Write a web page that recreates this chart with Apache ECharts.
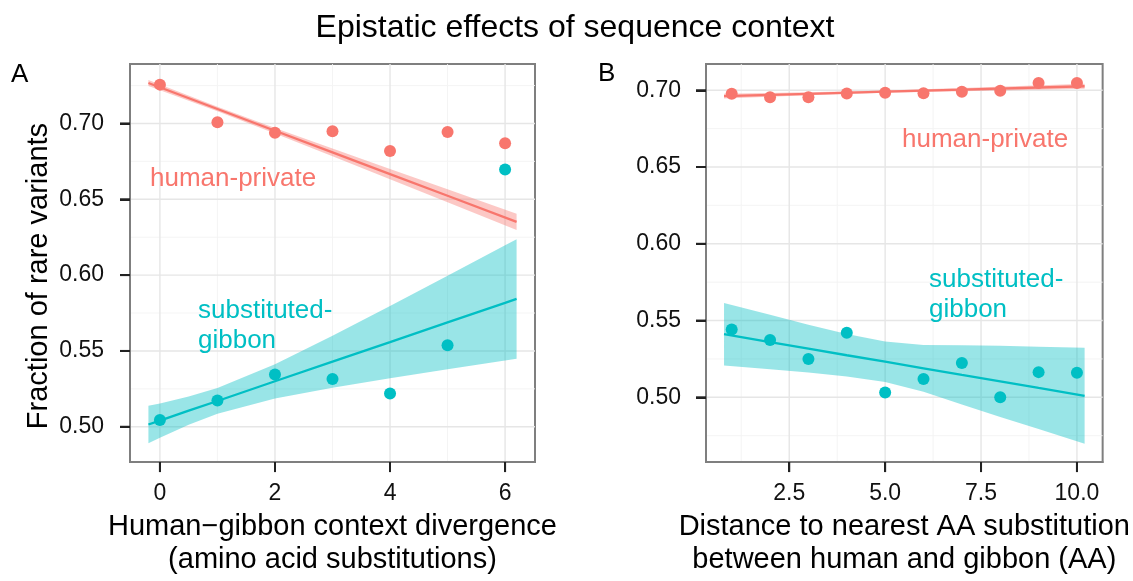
<!DOCTYPE html>
<html>
<head>
<meta charset="utf-8">
<script src="https://cdn.jsdelivr.net/npm/echarts@6/dist/echarts.min.js"></script>
<style>html,body{margin:0;padding:0;background:#fff;}#c{width:1133px;height:581px;}</style>
</head>
<body>
<div id="c"></div>
<script>
// ---------- Panel A data ----------
const xA = [0, 1, 2, 3, 4, 5, 6];
const privA = [0.7256, 0.7008, 0.6939, 0.6948, 0.6818, 0.6944, 0.6870];
const subA = [0.5045, 0.5173, 0.5345, 0.5315, 0.5220, 0.5538, 0.6696];
// fitted lines and confidence bands
const privA_fitX = [-0.2, 1, 2, 3, 4, 5, 6.2];
const privA_fit = [0.7267, 0.7095, 0.6952, 0.6809, 0.6666, 0.6523, 0.6351];
const privA_lo = [0.7247, 0.7080, 0.6934, 0.6784, 0.6632, 0.6480, 0.6298];
const privA_hi = [0.7287, 0.7110, 0.6970, 0.6834, 0.6700, 0.6566, 0.6404];
const subA_fitX = [-0.2, 0, 0.5, 1, 2, 3, 4, 5, 6, 6.2];
const subA_fit = [0.5015, 0.5041, 0.5106, 0.5170, 0.5300, 0.5429, 0.5558, 0.5688, 0.5817, 0.5843];
const subA_lo = [0.4892, 0.4928, 0.5013, 0.5085, 0.5187, 0.5258, 0.5320, 0.5380, 0.5437, 0.5449];
const subA_hi = [0.5138, 0.5154, 0.5199, 0.5255, 0.5413, 0.5600, 0.5796, 0.5996, 0.6197, 0.6237];

// ---------- Panel B data ----------
const xB = [1, 2, 3, 4, 5, 6, 7, 8, 9, 10];
const privB = [0.6977, 0.6955, 0.6955, 0.6979, 0.6983, 0.6981, 0.6990, 0.6996, 0.7047, 0.7047];
const subB = [0.5441, 0.5373, 0.5250, 0.5420, 0.5032, 0.5119, 0.5224, 0.5000, 0.5164, 0.5160];
const privB_fitX = [0.8, 3, 5, 7, 10.2];
const privB_fit = [0.6962, 0.6977, 0.6991, 0.7004, 0.7026];
const privB_lo = [0.6946, 0.6967, 0.6983, 0.6994, 0.7009];
const privB_hi = [0.6978, 0.6987, 0.6999, 0.7014, 0.7043];
const subB_fitX = [0.8, 2, 3, 4, 5, 6, 7, 8, 9, 10.2];
const subB_fit = [0.5411, 0.5360, 0.5317, 0.5274, 0.5232, 0.5189, 0.5146, 0.5104, 0.5061, 0.5010];
const subB_lo = [0.5208, 0.5182, 0.5161, 0.5136, 0.5100, 0.5037, 0.4953, 0.4872, 0.4793, 0.4698];
const subB_hi = [0.5614, 0.5538, 0.5473, 0.5412, 0.5364, 0.5341, 0.5339, 0.5336, 0.5329, 0.5322];

// ---------- ticks ----------
const xA_ticks = [0, 2, 4, 6];
const xA_minor = [1, 3, 5];
const yA_ticks = [0.50, 0.55, 0.60, 0.65, 0.70];
const yA_minor = [0.525, 0.575, 0.625, 0.675, 0.725];
const xB_ticks = [2.5, 5.0, 7.5, 10.0];
const xB_minor = [1.25, 3.75, 6.25, 8.75];
const yB_ticks = [0.50, 0.55, 0.60, 0.65, 0.70];
const yB_minor = [0.475, 0.525, 0.575, 0.625, 0.675];

const RED = '#F8766D', CYAN = '#00BFC4';
const FONT = '"Liberation Sans", Arial, sans-serif';

const extA = {xmin: -0.52, xmax: 6.52, ymin: 0.4767, ymax: 0.7392};
const extB = {xmin: 0.33, xmax: 10.67, ymin: 0.4578, ymax: 0.7171};

function gridData(xMaj, xMin, yMaj, yMin) {
  const d = [];
  xMin.forEach(v => d.push([v, 0, 0]));
  yMin.forEach(v => d.push([v, 1, 0]));
  xMaj.forEach(v => d.push([v, 0, 1]));
  yMaj.forEach(v => d.push([v, 1, 1]));
  return d;
}
function gridRender(ext) {
  return function (params, api) {
    const v = api.value(0), dir = api.value(1), maj = api.value(2);
    let p1, p2;
    if (dir === 0) { p1 = api.coord([v, ext.ymin]); p2 = api.coord([v, ext.ymax]); }
    else { p1 = api.coord([ext.xmin, v]); p2 = api.coord([ext.xmax, v]); }
    return {
      type: 'line', silent: true,
      shape: {x1: p1[0], y1: p1[1], x2: p2[0], y2: p2[1]},
      style: {stroke: maj ? '#e6e6e6' : '#f3f3f3', lineWidth: maj ? 1.4 : 0.9}
    };
  };
}
// outward tick marks drawn from the tick arrays through the axis scale
function tickRender(ext) {
  return function (params, api) {
    const v = api.value(0), dir = api.value(2);
    let p, pts;
    if (dir === 0) { p = api.coord([v, ext.ymin]); pts = [[p[0], p[1]], [p[0], p[1] + 10]]; }
    else { p = api.coord([ext.xmin, v]); pts = [[p[0], p[1]], [p[0] - 10, p[1]]]; }
    return {
      type: 'polyline', silent: true, z2: 100,
      shape: {points: pts},
      style: {stroke: '#222', lineWidth: 2, fill: null}
    };
  };
}
function tickData(xMaj, yMaj, ext) {
  const d = [];
  xMaj.forEach(v => d.push([v, ext.ymin, 0]));
  yMaj.forEach(v => d.push([ext.xmin, v, 1]));
  return d.map(r => r[2] === 0 ? [r[0], r[1], 0] : [r[1], r[0], 1]);
}
function bandRender(xs, lo, hi, color) {
  return function (params, api) {
    if (params.dataIndex !== 0) return;
    const pts = [];
    for (let i = 0; i < xs.length; i++) pts.push(api.coord([xs[i], hi[i]]));
    for (let i = xs.length - 1; i >= 0; i--) pts.push(api.coord([xs[i], lo[i]]));
    return {type: 'polygon', silent: true, shape: {points: pts}, style: {fill: color, opacity: 0.4}};
  };
}
function bandSeries(idx, xs, lo, hi, color) {
  return {
    type: 'custom', xAxisIndex: idx, yAxisIndex: idx, z: 1,
    renderItem: bandRender(xs, lo, hi, color),
    data: xs.map((x, i) => [x, lo[i], hi[i]]),
    encode: {x: 0, y: 1}
  };
}
function lineSeries(idx, xs, ys, color) {
  return {
    type: 'line', xAxisIndex: idx, yAxisIndex: idx, z: 2, showSymbol: false, silent: true,
    lineStyle: {color: color, width: 2.3}, itemStyle: {color: color},
    data: xs.map((x, i) => [x, ys[i]])
  };
}
function pointSeries(idx, xs, ys, color) {
  return {
    type: 'scatter', xAxisIndex: idx, yAxisIndex: idx, z: 3, symbolSize: 12,
    itemStyle: {color: color, opacity: 1},
    data: xs.map((x, i) => [x, ys[i]])
  };
}

const labelStyle = {color: '#111', fontSize: 23, fontFamily: FONT};
const nameStyle = {color: '#000', fontSize: 29, fontFamily: FONT, lineHeight: 33};
const axLine = {show: true, onZero: false, lineStyle: {color: '#7f7f7f', width: 2}};
function ticksOf(vals) {
  return {show: true, inside: false, length: 10, customValues: vals, lineStyle: {color: '#222', width: 2}};
}

const chart = echarts.init(document.getElementById('c'), null, {renderer: 'canvas'});
chart.setOption({
  backgroundColor: '#fff',
  animation: false,
  grid: [
    {left: 130, top: 64, width: 405, height: 406, show: true, borderColor: '#7f7f7f', borderWidth: 2, backgroundColor: 'transparent'},
    {left: 706, top: 64, width: 406, height: 406, show: true, borderColor: '#7f7f7f', borderWidth: 2, backgroundColor: 'transparent'}
  ],
  xAxis: [
    {
      type: 'value', gridIndex: 0, min: extA.xmin, max: extA.xmax,
      axisLine: axLine, splitLine: {show: false}, axisTick: ticksOf(xA_ticks),
      axisLabel: Object.assign({customValues: xA_ticks, margin: 20, formatter: v => String(v)}, labelStyle),
      name: 'Human\u2212gibbon context divergence\n(amino acid substitutions)',
      nameLocation: 'middle', nameGap: 46, nameTextStyle: nameStyle
    },
    {
      type: 'value', gridIndex: 1, min: extB.xmin, max: extB.xmax,
      axisLine: axLine, splitLine: {show: false}, axisTick: ticksOf(xB_ticks),
      axisLabel: Object.assign({customValues: xB_ticks, margin: 20, formatter: v => v.toFixed(1)}, labelStyle),
      name: 'Distance to nearest AA substitution\nbetween human and gibbon (AA)',
      nameLocation: 'middle', nameGap: 46, nameTextStyle: nameStyle
    }
  ],
  yAxis: [
    {
      type: 'value', gridIndex: 0, min: extA.ymin, max: extA.ymax,
      axisLine: axLine, splitLine: {show: false}, axisTick: ticksOf(yA_ticks),
      axisLabel: Object.assign({customValues: yA_ticks, margin: 26, formatter: v => v.toFixed(2)}, labelStyle),
      name: 'Fraction of rare variants', nameLocation: 'middle', nameGap: 74,
      nameTextStyle: Object.assign({padding: [0, 26, 0, 0]}, nameStyle)
    },
    {
      type: 'value', gridIndex: 1, min: extB.ymin, max: extB.ymax,
      axisLine: axLine, splitLine: {show: false}, axisTick: ticksOf(yB_ticks),
      axisLabel: Object.assign({customValues: yB_ticks, margin: 25, formatter: v => v.toFixed(2)}, labelStyle)
    }
  ],
  series: [
    {type: 'custom', xAxisIndex: 0, yAxisIndex: 0, z: 0, silent: true,
     renderItem: gridRender(extA), data: gridData(xA_ticks, xA_minor, yA_ticks, yA_minor)},
    {type: 'custom', xAxisIndex: 1, yAxisIndex: 1, z: 0, silent: true,
     renderItem: gridRender(extB), data: gridData(xB_ticks, xB_minor, yB_ticks, yB_minor)},
    {type: 'custom', xAxisIndex: 0, yAxisIndex: 0, z: 5, silent: true, clip: false,
     renderItem: tickRender(extA), data: tickData(xA_ticks, yA_ticks, extA)},
    {type: 'custom', xAxisIndex: 1, yAxisIndex: 1, z: 5, silent: true, clip: false,
     renderItem: tickRender(extB), data: tickData(xB_ticks, yB_ticks, extB)},
    bandSeries(0, privA_fitX, privA_lo, privA_hi, RED),
    bandSeries(0, subA_fitX, subA_lo, subA_hi, CYAN),
    bandSeries(1, privB_fitX, privB_lo, privB_hi, RED),
    bandSeries(1, subB_fitX, subB_lo, subB_hi, CYAN),
    lineSeries(0, privA_fitX, privA_fit, RED),
    lineSeries(0, subA_fitX, subA_fit, CYAN),
    lineSeries(1, privB_fitX, privB_fit, RED),
    lineSeries(1, subB_fitX, subB_fit, CYAN),
    pointSeries(0, xA, privA, RED),
    pointSeries(0, xA, subA, CYAN),
    pointSeries(1, xB, privB, RED),
    pointSeries(1, xB, subB, CYAN)
  ],
  graphic: [
    {type: 'text', x: 575, y: 28, style: {text: 'Epistatic effects of sequence context', fontSize: 32, fontFamily: FONT, fill: '#000', textAlign: 'center', textVerticalAlign: 'middle'}},
    {type: 'text', x: 11, y: 75, style: {text: 'A', fontSize: 26, fontFamily: FONT, fill: '#000', textAlign: 'left', textVerticalAlign: 'middle'}},
    {type: 'text', x: 598, y: 74, style: {text: 'B', fontSize: 26, fontFamily: FONT, fill: '#000', textAlign: 'left', textVerticalAlign: 'middle'}},
    {type: 'text', x: 150, y: 179, z: 10, style: {text: 'human-private', fontSize: 26, fontFamily: FONT, fill: RED, textAlign: 'left', textVerticalAlign: 'middle'}},
    {type: 'text', x: 198, y: 326, z: 10, style: {text: 'substituted-\ngibbon', fontSize: 26, lineHeight: 30, fontFamily: FONT, fill: CYAN, textAlign: 'left', textVerticalAlign: 'middle'}},
    {type: 'text', x: 902, y: 140, z: 10, style: {text: 'human-private', fontSize: 26, fontFamily: FONT, fill: RED, textAlign: 'left', textVerticalAlign: 'middle'}},
    {type: 'text', x: 929, y: 295, z: 10, style: {text: 'substituted-\ngibbon', fontSize: 26, lineHeight: 30, fontFamily: FONT, fill: CYAN, textAlign: 'left', textVerticalAlign: 'middle'}}
  ]
});
</script>
</body>
</html>
